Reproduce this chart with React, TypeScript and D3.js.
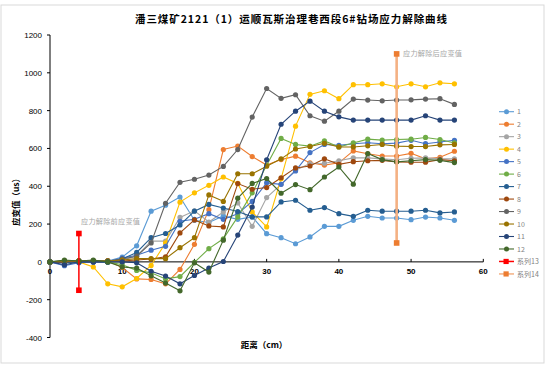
import * as d3 from 'd3'

// distance along the borehole (cm)
const distances = [0, 2, 4, 6, 8, 10, 12, 14, 16, 18, 20, 22, 24, 26, 28, 30, 32, 34, 36, 38, 40, 42, 44, 46, 48, 50, 52, 54, 56]

const s1 = [0, -5, 0, 5, 5, 25, 85, 268, 300, 343, 220, 208, 243, 225, 238, 149, 128, 96, 132, 188, 188, 220, 241, 232, 232, 223, 237, 232, 220]
const s2 = [0, 0, 0, 0, 5, -30, -90, -93, -116, -40, 93, 276, 594, 613, 557, 512, 541, 559, 524, 512, 524, 587, 572, 560, 560, 574, 545, 553, 585]
const s3 = [0, 0, 5, 5, 0, 10, 30, 110, 110, 235, 270, 211, 264, 312, 188, 340, 410, 485, 520, 522, 535, 550, 550, 545, 540, 548, 550, 545, 545]
const s4 = [0, 0, 0, -27, -116, -132, -88, -19, 100, 316, 365, 405, 449, 415, 264, 185, 440, 718, 886, 905, 863, 937, 937, 942, 926, 942, 926, 947, 942]
const s5 = [0, -20, -5, 0, 0, 20, 35, 62, 82, 215, 225, 255, 225, 255, 320, 418, 410, 481, 578, 621, 616, 625, 630, 625, 628, 643, 625, 634, 643]
const s6 = [0, 5, 5, 5, 0, -15, -45, -58, -90, -78, -3, 70, 122, 238, 365, 511, 653, 621, 612, 640, 608, 629, 649, 644, 647, 649, 658, 647, 629]
const s7 = [0, -5, 0, 0, 0, 15, 50, 128, 150, 195, 268, 304, 285, 266, 238, 238, 317, 326, 273, 287, 255, 241, 273, 268, 268, 268, 273, 259, 264]
const s8 = [0, 0, 5, 5, 5, 5, 10, 15, 27, 153, 222, 190, 185, 414, 384, 393, 445, 497, 507, 545, 516, 530, 535, 537, 529, 527, 527, 541, 535]
const s9 = [0, 5, 5, 5, 5, 15, 30, 100, 310, 421, 437, 459, 505, 594, 766, 917, 865, 884, 773, 744, 797, 861, 856, 852, 856, 857, 861, 863, 833]
const s10 = [0, 5, 5, 5, 5, 10, 17, 17, 17, 75, 128, 354, 320, 466, 466, 506, 545, 597, 610, 627, 608, 608, 614, 621, 612, 610, 610, 619, 621]
const s11 = [0, -15, 0, 0, 0, 0, -5, -50, -75, -116, -72, -33, 2, 142, 290, 540, 728, 797, 850, 797, 767, 750, 750, 750, 750, 750, 773, 750, 750]
const s12 = [0, 10, 5, 10, 0, -27, -33, -74, -112, -153, -5, -54, 115, 337, 415, 441, 363, 409, 382, 449, 502, 411, 573, 541, 529, 535, 541, 537, 525]

const seriesNames = ['1', '2', '3', '4', '5', '6', '7', '8', '9', '10', '11', '12']
const seriesColors = ['#5B9BD5', '#ED7D31', '#A5A5A5', '#FFC000', '#4472C4', '#70AD47', '#255E91', '#9E480E', '#636363', '#997300', '#264478', '#43682B']

// 系列13: before stress relief, 系列14: after stress relief
const s13x = [4, 4]
const s13y = [150, -150]
const s14x = [48, 48]
const s14y = [1100, 100]

const xTicks = [0, 10, 20, 30, 40, 50, 60]
const yTicks = [-400, -200, 0, 200, 400, 600, 800, 1000, 1200]

const title = '潘三煤矿2121（1）运顺瓦斯治理巷西段6#钻场应力解除曲线'

export default function App() {
  const x = d3.scaleLinear().domain([0, 60]).range([50, 483.3])
  const y = d3.scaleLinear().domain([-400, 1200]).range([337.5, 35])
  const line = d3.line<[number, number]>().x(d => x(d[0])).y(d => y(d[1]))

  const allSeries = [s1, s2, s3, s4, s5, s6, s7, s8, s9, s10, s11, s12]
  const numFont = '"Liberation Sans", Arial, sans-serif'
  const cjkFont = '"Noto Sans CJK SC", sans-serif'

  const legendY = (i: number) => 111.7 + i * 12.48
  const legendItems = [
    ...seriesNames.map((n, i) => ({ name: n, color: seriesColors[i], lineColor: seriesColors[i], square: false })),
    { name: '系列13', color: '#FF0000', lineColor: '#FF0000', square: true },
    { name: '系列14', color: '#ED7D31', lineColor: '#F4B183', square: true }
  ]

  const pts13: [number, number][] = s13x.map((v, i) => [v, s13y[i]])
  const pts14: [number, number][] = s14x.map((v, i) => [v, s14y[i]])

  return (
    <svg width={558} height={368} style={{ position: 'absolute', left: 0, top: 0, background: '#fff' }}>
      <rect x={1} y={5} width={543} height={358} fill='none' stroke='#D9D9D9' strokeWidth={1} />

      <text x={291} y={23} textAnchor='middle' fontFamily={cjkFont} fontSize={10.5} fontWeight='bold'
        textLength={312} lengthAdjust='spacing' fill='#000'>{title}</text>

      {/* y axis */}
      <line x1={x(0)} x2={x(0)} y1={y(1200)} y2={y(-400)} stroke='#000' strokeWidth={1} />
      {yTicks.map(t => (
        <g key={'y' + t}>
          <line x1={x(0) - 3} x2={x(0)} y1={y(t)} y2={y(t)} stroke='#000' />
          <text x={42} y={y(t) + 3} textAnchor='end' fontFamily={numFont} fontSize={8} fill='#000'>{t}</text>
        </g>
      ))}

      {/* x axis at zero */}
      <line x1={x(0)} x2={x(60)} y1={y(0)} y2={y(0)} stroke='#000' strokeWidth={1} />
      {xTicks.map(t => (
        <g key={'x' + t}>
          <line x1={x(t)} x2={x(t)} y1={y(0) - 3} y2={y(0)} stroke='#000' />
          <text x={x(t)} y={y(0) + 12.5} textAnchor='middle' fontFamily={numFont} fontSize={8} fontWeight='bold' fill='#000'>{t}</text>
        </g>
      ))}

      <text x={264} y={348} textAnchor='middle' fontFamily={cjkFont} fontSize={8.5} fontWeight='bold' fill='#000'>距离（cm）</text>
      <text transform='translate(19,200) rotate(-90)' textAnchor='middle' fontFamily={cjkFont} fontSize={8.5} fontWeight='bold' fill='#000'>应变值（us）</text>

      {/* series 1..12 */}
      {allSeries.map((vals, si) => {
        const pts: [number, number][] = distances.map((d, i) => [d, vals[i]])
        return (
          <g key={'s' + si}>
            <path d={line(pts) || ''} fill='none' stroke={seriesColors[si]} strokeWidth={1.1} />
            {pts.map((p, i) => (
              <circle key={i} cx={x(p[0])} cy={y(p[1])} r={2.6} fill={seriesColors[si]} />
            ))}
          </g>
        )
      })}

      {/* 系列13 */}
      <path d={line(pts13) || ''} fill='none' stroke='#FF0000' strokeWidth={1.5} />
      {pts13.map((p, i) => (
        <rect key={i} x={x(p[0]) - 2.8} y={y(p[1]) - 2.8} width={5.6} height={5.6} fill='#FF0000' />
      ))}
      <text x={81} y={y(213) + 2.5} fontFamily={cjkFont} fontSize={7.2} fill='#A6A6A6' textLength={59} lengthAdjust='spacing'>应力解除前应变值</text>

      {/* 系列14 */}
      <path d={line(pts14) || ''} fill='none' stroke='#F4B183' strokeWidth={2.6} />
      {pts14.map((p, i) => (
        <rect key={i} x={x(p[0]) - 2.8} y={y(p[1]) - 2.8} width={5.6} height={5.6} fill='#ED7D31' />
      ))}
      <text x={403} y={y(1100) + 2.5} fontFamily={cjkFont} fontSize={7.2} fill='#A6A6A6' textLength={59} lengthAdjust='spacing'>应力解除后应变值</text>

      {/* legend */}
      {legendItems.map((it, i) => (
        <g key={'lg' + i} transform={`translate(0,${legendY(i)})`}>
          <line x1={499} x2={514} y1={0} y2={0} stroke={it.lineColor} strokeWidth={it.square ? 1.5 : 1.1} />
          {it.square
            ? <rect x={503.5} y={-2.6} width={5.2} height={5.2} fill={it.color} />
            : <circle cx={506.5} cy={0} r={2.5} fill={it.color} />}
          <text x={517} y={2.6} fontFamily={cjkFont} fontSize={7} fill='#7F7F7F'>{it.name}</text>
        </g>
      ))}
    </svg>
  )
}
